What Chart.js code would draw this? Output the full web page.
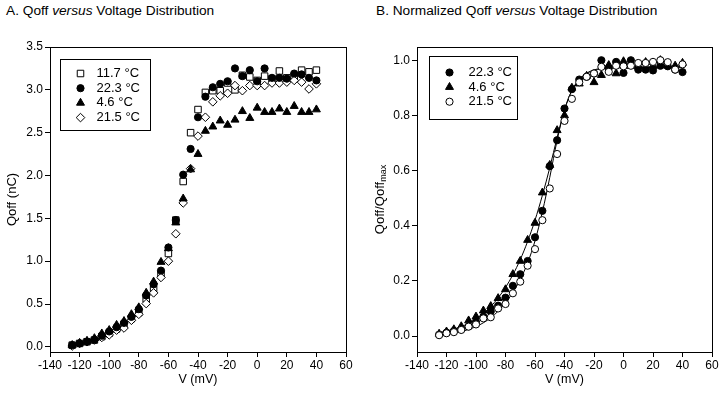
<!DOCTYPE html>
<html><head><meta charset="utf-8">
<script src="https://cdn.jsdelivr.net/npm/chart.js@4.4.1/dist/chart.umd.min.js"></script>
<style>
html,body{margin:0;padding:0;background:#fff;}
#wrap{position:relative;width:720px;height:394px;overflow:hidden;background:#fff;}
.t{position:absolute;top:4px;font-family:"Liberation Sans",Arial,sans-serif;font-size:13.7px;line-height:14px;color:#000;white-space:nowrap;}
canvas{position:absolute;top:0;}
</style></head><body>
<div id="wrap">
<div class="t" style="left:6px">A. Qoff <i>versus</i> Voltage Distribution</div>
<div class="t" style="left:376px">B. Normalized Qoff <i>versus</i> Voltage Distribution</div>
<canvas id="a" width="360" height="394" style="left:0"></canvas>
<canvas id="b" width="360" height="394" style="left:360px"></canvas>
</div>
<script>
// ---- data ----
const voltage = [-125,-120,-115,-110,-105,-100,-95,-90,-85,-80,-75,-70,-65,-60,-55,-50,-45,-40,-35,-30,-25,-20,-15,-10,-5,0,5,10,15,20,25,30,35,40];
// Panel A: Qoff (nC)
const qoff117 = [0.02,0.04,0.06,0.08,0.12,0.16,0.21,0.26,0.33,0.40,0.56,0.68,0.85,1.09,1.48,1.93,2.50,2.77,2.97,2.99,2.99,3.08,3.00,3.17,3.15,3.11,3.16,3.13,3.22,3.14,3.16,3.23,3.21,3.23];
const qoff223 = [0.02,0.04,0.06,0.08,0.13,0.18,0.23,0.28,0.35,0.44,0.60,0.73,0.89,1.16,1.48,2.01,2.31,2.68,2.92,3.03,3.07,3.10,3.25,3.16,3.23,3.10,3.25,3.14,3.14,3.13,3.19,3.18,3.14,3.11];
const qoff46  = [0.02,0.045,0.07,0.10,0.155,0.195,0.255,0.30,0.38,0.46,0.63,0.76,0.99,1.15,1.45,1.73,2.07,2.25,2.52,2.57,2.64,2.59,2.65,2.75,2.67,2.79,2.74,2.74,2.78,2.74,2.81,2.74,2.74,2.77];
const qoff215 = [0.01,0.04,0.06,0.08,0.11,0.14,0.195,0.22,0.31,0.38,0.505,0.63,0.81,1.00,1.32,1.68,2.08,2.46,2.68,2.86,2.93,2.96,3.05,2.99,3.05,3.05,3.05,3.08,3.08,3.09,3.11,3.09,3.01,3.07];
// Panel B: normalized Qoff/Qoffmax
const norm223 = [0.005,0.012,0.018,0.024,0.035,0.05,0.07,0.089,0.11,0.139,0.182,0.224,0.272,0.358,0.454,0.616,0.71,0.825,0.895,0.93,0.94,0.952,1.0,0.972,0.994,0.954,1.0,0.966,0.966,0.963,0.98,0.978,0.966,0.957];
const norm46  = [0.008,0.016,0.024,0.035,0.056,0.07,0.092,0.108,0.137,0.169,0.224,0.272,0.348,0.41,0.52,0.62,0.746,0.80,0.90,0.915,0.943,0.92,0.946,0.982,0.952,0.996,0.979,0.98,0.993,0.979,1.0,0.98,0.98,0.99];
const norm215 = [0.003,0.01,0.014,0.022,0.034,0.042,0.064,0.068,0.10,0.116,0.155,0.197,0.255,0.315,0.42,0.535,0.66,0.78,0.86,0.92,0.94,0.952,0.976,0.958,0.98,0.978,0.98,0.99,0.99,0.994,1.0,0.993,0.966,0.985];
// fitted curves
const fit46  = [0.012,0.018,0.025,0.034,0.046,0.062,0.082,0.107,0.138,0.176,0.222,0.277,0.343,0.42,0.51,0.61,0.72,0.82,0.89,0.93,0.952,0.963,0.968,0.971,0.972,0.973,0.973,0.973,0.973,0.973,0.973,0.973,0.973,0.973];
const fit223 = [0.004,0.007,0.011,0.016,0.024,0.034,0.048,0.066,0.09,0.12,0.158,0.205,0.265,0.345,0.45,0.575,0.71,0.82,0.89,0.93,0.953,0.965,0.971,0.974,0.975,0.976,0.976,0.976,0.976,0.976,0.976,0.976,0.976,0.976];
// ticks
const xTicks = [-140,-120,-100,-80,-60,-40,-20,0,20,40,60];
const yTicksA = [0,0.5,1.0,1.5,2.0,2.5,3.0,3.5];
const yTicksB = [0,0.2,0.4,0.6,0.8,1.0];
const labelsA = ['11.7 °C','22.3 °C','4.6 °C','21.5 °C'];
const labelsB = ['22.3 °C','4.6 °C','21.5 °C'];

const FONT = '"Liberation Sans", Arial, sans-serif';
Chart.defaults.font.family = FONT;
Chart.defaults.color = '#000';

const pts = ys => voltage.map((v,i)=>({x:v,y:ys[i]}));
const styles = {
  sq:  {pointStyle:'rect', pointRadius:4.6, backgroundColor:'#fff'},
  fc:  {pointStyle:'circle', pointRadius:3.6, backgroundColor:'#000'},
  tri: {pointStyle:'triangle', pointRadius:4.6, backgroundColor:'#000'},
  dia: {pointStyle:'rectRot', pointRadius:4.3, backgroundColor:'#fff'},
  oc:  {pointStyle:'circle', pointRadius:3.6, backgroundColor:'#fff'}
};
function ds(label, ys, st, order){
  return Object.assign({label, data:pts(ys), showLine:false, borderColor:'#000', borderWidth:1, pointBorderWidth:1, order,
    pointBackgroundColor:st.backgroundColor, pointHoverRadius:st.pointRadius}, st);
}
function lineDs(ys){
  return {label:'fit', data:pts(ys), showLine:true, borderColor:'#000', borderWidth:1, pointRadius:0, pointHoverRadius:0,
    cubicInterpolationMode:'monotone', order:10};
}

const framePlugin = {id:'frame', beforeDatasetsDraw(chart){
  const {ctx, chartArea:a} = chart;
  ctx.save(); ctx.strokeStyle='#000'; ctx.lineWidth=1;
  ctx.strokeRect(Math.round(a.left)+0.5, Math.round(a.top)+0.5, Math.round(a.right-a.left), Math.round(a.bottom-a.top));
  ctx.restore();
}};

function legendPlugin(labels, marks, box){
  return {id:'lgd', afterDraw(chart){
    const {ctx, chartArea:a} = chart;
    const x0 = Math.round(a.left + box.dx)+0.5, y0 = Math.round(a.top + box.dy)+0.5;
    ctx.save();
    ctx.fillStyle='#fff'; ctx.fillRect(x0,y0,box.w,box.h);
    ctx.strokeStyle='#000'; ctx.lineWidth=1; ctx.strokeRect(x0,y0,box.w,box.h);
    ctx.font = '13px '+FONT; ctx.textBaseline='middle'; ctx.textAlign='left';
    labels.forEach((lab,i)=>{
      const y = y0 + box.first + i*box.step;
      const st = marks[i];
      ctx.fillStyle = st.backgroundColor; ctx.strokeStyle='#000'; ctx.lineWidth=1;
      Chart.helpers.drawPoint(ctx, {pointStyle:st.pointStyle, radius:st.pointRadius, rotation:0, borderWidth:1}, x0+box.mx, y);
      ctx.fillStyle='#000';
      ctx.fillText(lab, x0+box.tx, y);
    });
    ctx.restore();
  }};
}

function titlePlugin(yTitle, ySub){
  return {id:'ttl', afterDraw(chart){
    const {ctx, chartArea:a} = chart;
    ctx.save(); ctx.fillStyle='#000';
    // x title
    ctx.font = '12.5px '+FONT; ctx.textAlign='center'; ctx.textBaseline='middle';
    ctx.fillText('V (mV)', (a.left+a.right)/2, 380);
    // y title
    const cy = (a.top+a.bottom)/2;
    ctx.translate(yTitle.x, cy); ctx.rotate(-Math.PI/2);
    ctx.font = '13px '+FONT;
    const w1 = ctx.measureText(yTitle.text).width;
    let w2 = 0;
    if (ySub){ ctx.font='9px '+FONT; w2 = ctx.measureText(ySub).width; }
    const start = -(w1+w2)/2;
    ctx.textAlign='left'; ctx.textBaseline='middle';
    ctx.font = '13px '+FONT; ctx.fillText(yTitle.text, start, 0);
    if (ySub){ ctx.font='9px '+FONT; ctx.fillText(ySub, start+w1, 4); }
    ctx.restore();
  }};
}

function scales(ymin, ymax, yTicks, yWidth){
  const grid = {drawOnChartArea:false, drawTicks:true, tickLength:5, color:'#000', lineWidth:1};
  return {
    x:{type:'linear', min:-140, max:60,
       afterBuildTicks(s){ s.ticks = xTicks.map(v=>({value:v})); },
       ticks:{padding:1, font:{size:12}, color:'#000', maxRotation:0, autoSkip:false},
       grid, border:{display:true, color:'#000', width:1},
       afterFit(s){ s.height = 42; }},
    y:{type:'linear', min:ymin, max:ymax,
       afterBuildTicks(s){ s.ticks = yTicks.map(v=>({value:v})); },
       ticks:{padding:2, font:{size:12}, color:'#000', callback:v=>Number(v).toFixed(1), autoSkip:false},
       grid, border:{display:true, color:'#000', width:1},
       afterFit(s){ s.width = yWidth; }}
  };
}

const baseOpts = (pad, sc) => ({
  responsive:false, animation:false, events:[],
  layout:{padding:pad},
  plugins:{legend:{display:false}, tooltip:{enabled:false}, title:{display:false}},
  scales:sc
});

new Chart(document.getElementById('a'), {
  type:'scatter',
  data:{datasets:[
    ds(labelsA[0], qoff117, styles.sq, 4),
    ds(labelsA[1], qoff223, styles.fc, 1),
    ds(labelsA[2], qoff46, styles.tri, 2),
    ds(labelsA[3], qoff215, styles.dia, 3)
  ]},
  options: baseOpts({left:0,right:14,top:47,bottom:0}, scales(-0.06, 3.5, yTicksA, 50)),
  plugins:[framePlugin,
    legendPlugin(labelsA, [styles.sq, styles.fc, styles.tri, styles.dia], {dx:10, dy:12, w:90, h:71, first:14, step:14.7, mx:20, tx:36}),
    titlePlugin({text:'Qoff (nC)', x:12}, null)]
});

new Chart(document.getElementById('b'), {
  type:'scatter',
  data:{datasets:[
    lineDs(fit46),
    lineDs(fit223),
    ds(labelsB[0], norm223, styles.fc, 2),
    ds(labelsB[1], norm46, styles.tri, 3),
    ds(labelsB[2], norm215, styles.oc, 1)
  ]},
  options: baseOpts({left:0,right:8,top:47,bottom:0}, scales(-0.058, 1.048, yTicksB, 57)),
  plugins:[framePlugin,
    legendPlugin(labelsB, [styles.fc, styles.tri, styles.oc], {dx:12, dy:9, w:88, h:63, first:16, step:14.6, mx:20, tx:39}),
    titlePlugin({text:'Qoff/Qoff', x:20}, 'max')]
});
</script>
</body></html>
